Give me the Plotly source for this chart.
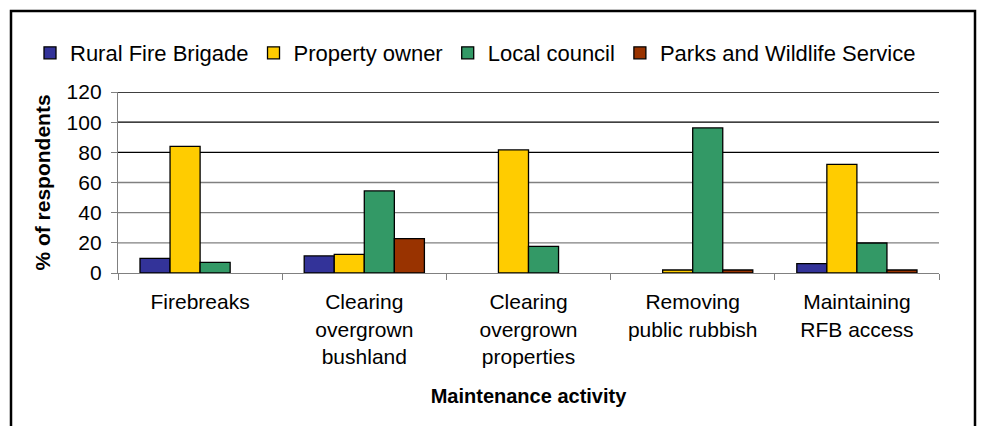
import plotly.graph_objects as go

categories = ["Firebreaks", "Clearing<br>overgrown<br>bushland", "Clearing<br>overgrown<br>properties",
              "Removing<br>public rubbish", "Maintaining<br>RFB access"]
series_names = ["Rural Fire Brigade", "Property owner", "Local council", "Parks and Wildlife Service"]
rural_fire_brigade = [9.7, 11.3, None, None, 6.2]
property_owner = [84, 12.4, 81.6, 2, 72]
local_council = [7, 54.4, 17.7, 96.2, 19.9]
parks_wildlife = [None, 22.8, None, 2, 2]
y_ticks = [0, 20, 40, 60, 80, 100, 120]
colors = ["#333399", "#FFCC00", "#339966", "#993300"]

FONT = "Arial, 'Liberation Sans', sans-serif"
OFF = 8  # default page body margin of the html page
FS = 21

fig = go.Figure()
for name, vals, col in zip(series_names, [rural_fire_brigade, property_owner, local_council, parks_wildlife], colors):
    fig.add_trace(go.Bar(name=name, x=categories, y=vals, marker=dict(color=col, line=dict(color="#000000", width=1.3))))

# target pixel layout in the page
L, R, T, B = 118, 939, 92, 273
W, H = R - L, B - T
FW, FH = 987 - OFF, 426 - OFF

shapes = []
for t in y_ticks[1:]:
    shapes.append(dict(type="line", xref="paper", yref="y", x0=0, x1=1, y0=t, y1=t,
                       line=dict(color="#000000" if t >= 80 else "#808080", width=1.3), layer="below"))
shapes.append(dict(type="rect", xref="paper", yref="paper",
                   x0=(11 - L) / W, x1=(975 - L) / W, y0=(B - 440) / H, y1=1 + (T - 11) / H,
                   line=dict(color="#000000", width=2.5), fillcolor="rgba(0,0,0,0)"))

fig.update_layout(
    width=FW, height=FH,
    margin=dict(l=L - OFF, r=987 - R, t=T - OFF, b=426 - B, pad=0, autoexpand=False),
    paper_bgcolor="white", plot_bgcolor="white",
    barmode="group", bargap=0.268, bargroupgap=0,
    font=dict(family=FONT, size=FS, color="#000000"),
    showlegend=True,
    legend=dict(orientation="h", x=(30 - L) / W, xanchor="left", y=1 + (T - 53) / H, yanchor="middle",
                font=dict(size=22), traceorder="normal", itemwidth=30, bgcolor="rgba(0,0,0,0)"),
    shapes=shapes,
    xaxis=dict(showline=True, linecolor="#808080", linewidth=1.3, ticks="outside", tickson="boundaries",
               ticklen=6, tickcolor="#808080", showgrid=False, tickfont=dict(size=FS),
               ticklabelstandoff=10,
               title=dict(text="<b>Maintenance activity</b>", font=dict(size=20), standoff=22)),
    yaxis=dict(range=[0, 120], tickvals=y_ticks, showline=True, linecolor="#808080", linewidth=1.3,
               ticks="outside", ticklen=6, tickcolor="#808080", showgrid=False, zeroline=False,
               tickfont=dict(size=FS), ticklabelstandoff=5,
               title=dict(text="<b>% of respondents</b>", font=dict(size=21), standoff=10)),
)

fig.write_html("out.html")
